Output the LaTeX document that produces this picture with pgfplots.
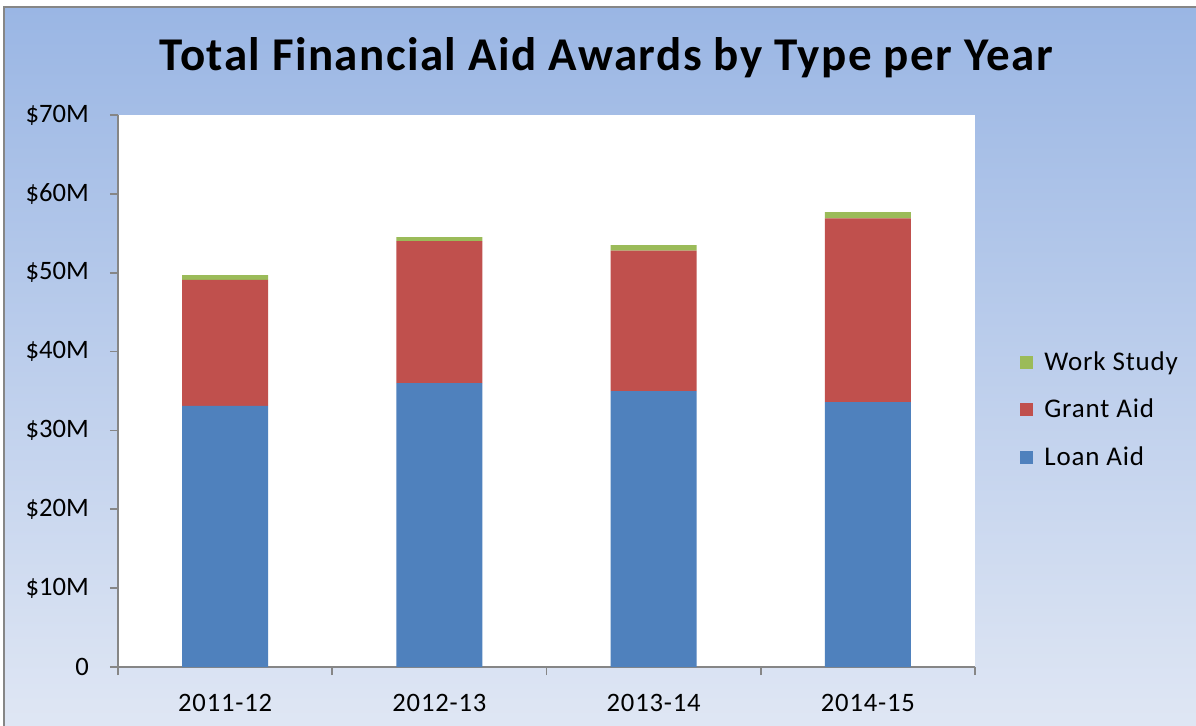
\documentclass[border=0pt]{standalone}
\usepackage{pgfplots}
\pgfplotsset{compat=1.18}
\usepackage{fontspec}
\setmainfont{Carlito}
\newfontfamily\spaced[LetterSpace=3.0]{Carlito}
\definecolor{loan}{HTML}{4F81BD}
\definecolor{grant}{HTML}{C0504D}
\definecolor{work}{HTML}{9BBB59}
\definecolor{bgtop}{HTML}{9AB6E4}
\definecolor{bgbot}{HTML}{E0E7F4}
\definecolor{axgray}{HTML}{868686}
\begin{document}
\begin{tikzpicture}[x=1pt,y=1pt]
\path[use as bounding box] (0,0) rectangle (598,362.5);
\shade[top color=bgtop, bottom color=bgbot] (2,-5) rectangle (603,359);
\draw[axgray, line width=1pt] (2.2,-5) -- (2.2,358.8) -- (603,358.8);
\node[anchor=base, font=\spaced\bfseries\fontsize{23.5}{28}\selectfont] at (303,327) {Total Financial Aid Awards by Type per Year};
\begin{axis}[
  at={(59pt,29pt)}, anchor=south west,
  scale only axis, width=428.5pt, height=276pt,
  ybar stacked, bar width=43pt,
  xmin=-0.5, xmax=3.5, ymin=0, ymax=70,
  axis background/.style={fill=white},
  axis x line*=bottom, axis y line*=left,
  axis line style={axgray, line width=0.8pt},
  separate axis lines,
  every outer x axis line/.append style={-},
  every outer y axis line/.append style={-},
  xtick={0,1,2,3},
  xticklabels={2011-12,2012-13,2013-14,2014-15},
  major x tick style={draw=none},
  minor xtick={-0.5,0.5,1.5,2.5,3.5},
  minor tick length=4pt,
  minor x tick style={axgray, line width=0.8pt},
  ytick={0,10,...,70},
  yticklabels={0,\$10M,\$20M,\$30M,\$40M,\$50M,\$60M,\$70M},
  major tick length=4pt,
  y tick style={axgray, line width=0.8pt},
  tick align=outside,
  yticklabel style={font=\fontsize{13.3}{16}\selectfont, text=black, xshift=-7pt},
  xticklabel style={font=\spaced\fontsize{13.3}{16}\selectfont, text=black, yshift=-6pt},
  legend style={at={(1.0525,0.4656)}, anchor=west, draw=none, fill=none,
    font=\spaced\fontsize{13.5}{16}\selectfont, row sep=8.8pt, inner sep=0pt,
    nodes={inner xsep=5.5pt}},
  legend cell align=left,
  reverse legend,
  legend image code/.code={\fill[#1,draw=none] (0pt,-3.25pt) rectangle (6.5pt,3.25pt);},
]
\addplot[fill=loan, draw=none] coordinates {(0,33.1) (1,36.0) (2,35.0) (3,33.6)};
\addplot[fill=grant, draw=none] coordinates {(0,16.0) (1,18.0) (2,17.8) (3,23.3)};
\addplot[fill=work, draw=none] coordinates {(0,0.6) (1,0.5) (2,0.7) (3,0.8)};
\legend{Loan Aid, Grant Aid, Work Study}
\end{axis}
\end{tikzpicture}
\end{document}
